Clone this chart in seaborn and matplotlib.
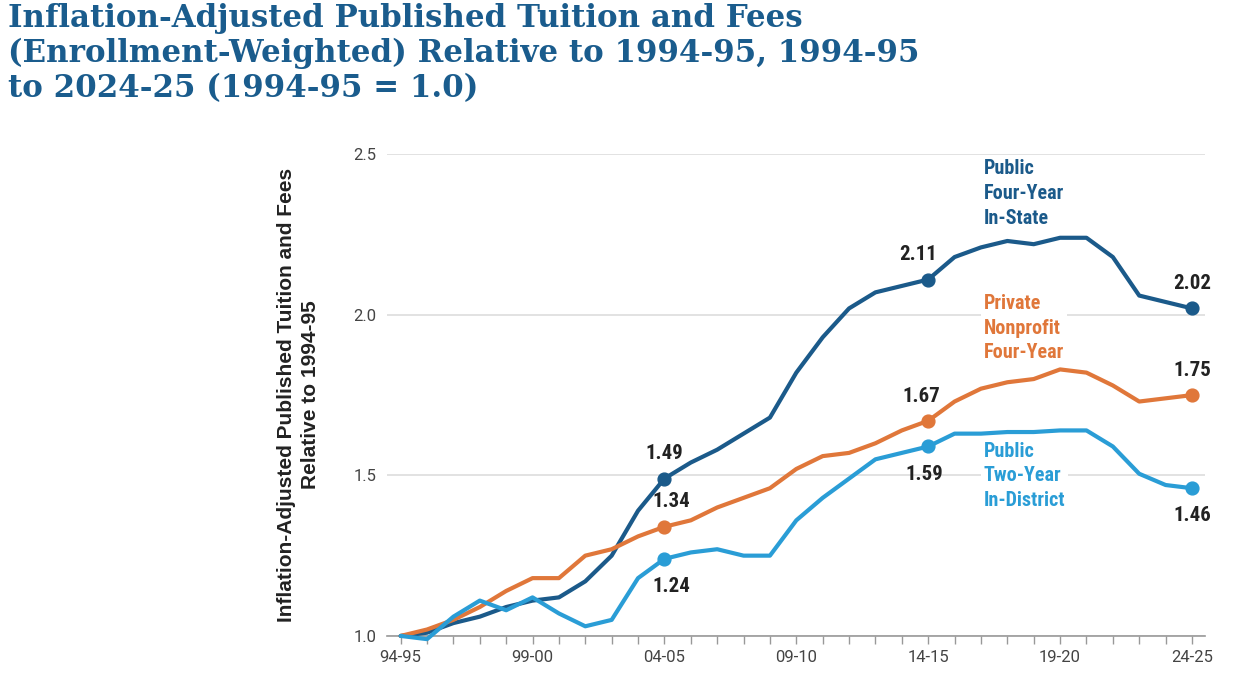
import numpy as np
import pandas as pd
import seaborn as sns
import matplotlib
matplotlib.use("Agg")
import matplotlib.pyplot as plt

# 学年
years = ["94-95", "95-96", "96-97", "97-98", "98-99", "99-00", "00-01", "01-02",
         "02-03", "03-04", "04-05", "05-06", "06-07", "07-08", "08-09", "09-10",
         "10-11", "11-12", "12-13", "13-14", "14-15", "15-16", "16-17", "17-18",
         "18-19", "19-20", "20-21", "21-22", "22-23", "23-24", "24-25"]
# 三类学校
public4 = [1.00, 1.01, 1.04, 1.06, 1.09, 1.11, 1.12, 1.17, 1.25, 1.39, 1.49,
           1.54, 1.58, 1.63, 1.68, 1.82, 1.93, 2.02, 2.07, 2.09, 2.11, 2.18,
           2.21, 2.23, 2.22, 2.24, 2.24, 2.18, 2.06, 2.04, 2.02]
private4 = [1.00, 1.02, 1.05, 1.09, 1.14, 1.18, 1.18, 1.25, 1.27, 1.31, 1.34,
            1.36, 1.40, 1.43, 1.46, 1.52, 1.56, 1.57, 1.60, 1.64, 1.67, 1.73,
            1.77, 1.79, 1.80, 1.83, 1.82, 1.78, 1.73, 1.74, 1.75]
public2 = [1.00, 0.99, 1.06, 1.11, 1.08, 1.12, 1.07, 1.03, 1.05, 1.18, 1.24,
           1.26, 1.27, 1.25, 1.25, 1.36, 1.43, 1.49, 1.55, 1.57, 1.59, 1.63,
           1.63, 1.635, 1.635, 1.64, 1.64, 1.59, 1.505, 1.47, 1.46]
series_names = ["Public\nFour-Year\nIn-State", "Private\nNonprofit\nFour-Year",
                "Public\nTwo-Year\nIn-District"]
colors = ["#1b5a8a", "#e0773a", "#2a9dd6"]
tick_years = ["94-95", "99-00", "04-05", "09-10", "14-15", "19-20", "24-25"]
label_years = ["04-05", "14-15", "24-25"]

# 长表
rows = []
for name, vals in zip(series_names, [public4, private4, public2]):
    for i, (yr, v) in enumerate(zip(years, vals)):
        rows.append({"idx": i, "year": yr, "value": v, "type": name})
data = pd.DataFrame(rows)

sns.set_style("white")
plt.rcParams['font.family'] = ['Roboto', 'DejaVu Sans']
cond = ['Roboto Condensed', 'Liberation Sans Narrow', 'Roboto']

fig = plt.figure(figsize=(12.58, 6.95), dpi=100)
ax = fig.add_axes([0.308, 0.085, 0.650, 0.693])

ax.set_yticks([1.0, 1.5, 2.0, 2.5])
ax.yaxis.grid(True, color="#dddddd", linewidth=1.2, zorder=0)

sns.lineplot(data=data, x="idx", y="value", hue="type", palette=colors,
             linewidth=3, ax=ax, legend=False, zorder=3)
for ln in ax.lines:
    ln.set_clip_on(False)

# 标注点
offsets = {
    0: [(0, 11, "center"), (-7, 11, "center"), (0, 11, "center")],
    1: [(5, 11, "center"), (-5, 11, "center"), (0, 11, "center")],
    2: [(5, -13, "center"), (-3, -13, "center"), (0, -13, "center")],
}
for s, (name, vals, c) in enumerate(zip(series_names, [public4, private4, public2], colors)):
    for j, yr in enumerate(label_years):
        i = years.index(yr)
        ax.scatter(i, vals[i], s=85, color=c, zorder=4, clip_on=False)
        dx, dy, ha = offsets[s][j]
        va = "bottom" if dy > 0 else "top"
        ax.annotate(f"{vals[i]:.2f}", (i, vals[i]), xytext=(dx, dy),
                    textcoords="offset points", ha=ha, va=va,
                    fontsize=15, fontweight="bold", color="#222222", zorder=5,
                    family=cond)

# 系列标签
label_pos = [2.485, 2.065, 1.605]
for name, c, y in zip(series_names, colors, label_pos):
    ax.text(22.1, y, name, color=c, fontsize=14.5, fontweight="bold",
            ha="left", va="top", linespacing=1.38, zorder=2, family=cond,
            bbox=dict(facecolor="white", edgecolor="none", pad=2))

ax.set_xlim(-0.5, 30.5)
ax.set_ylim(1.0, 2.5)
ax.set_xticks(range(len(years)))
ax.set_xticklabels([y if y in tick_years else "" for y in years])
ax.tick_params(axis="x", length=6, width=1, color="#999999", labelsize=12,
               labelcolor="#444444", pad=4, direction="out", bottom=True)
ax.tick_params(axis="y", length=0, labelsize=12, labelcolor="#444444", pad=8)
for sp in ["top", "right", "left"]:
    ax.spines[sp].set_visible(False)
ax.spines["bottom"].set_color("#999999")
ax.spines["bottom"].set_linewidth(1.2)
ax.spines["bottom"].set_zorder(1)

ax.set_xlabel("")
ax.set_ylabel("Inflation-Adjusted Published Tuition and Fees\nRelative to 1994-95",
              fontsize=15, fontweight="bold", color="#222222", labelpad=24,
              linespacing=1.35, family=["Liberation Sans", "DejaVu Sans"])

fig.text(0.006, 0.995, "Inflation-Adjusted Published Tuition and Fees\n"
         "(Enrollment-Weighted) Relative to 1994-95, 1994-95\n"
         "to 2024-25 (1994-95 = 1.0)", ha="left", va="top",
         fontsize=22.2, fontweight="bold", color="#1a5c8d", linespacing=1.15,
         family=["DejaVu Serif"])

fig.savefig("out.png", dpi=100)
